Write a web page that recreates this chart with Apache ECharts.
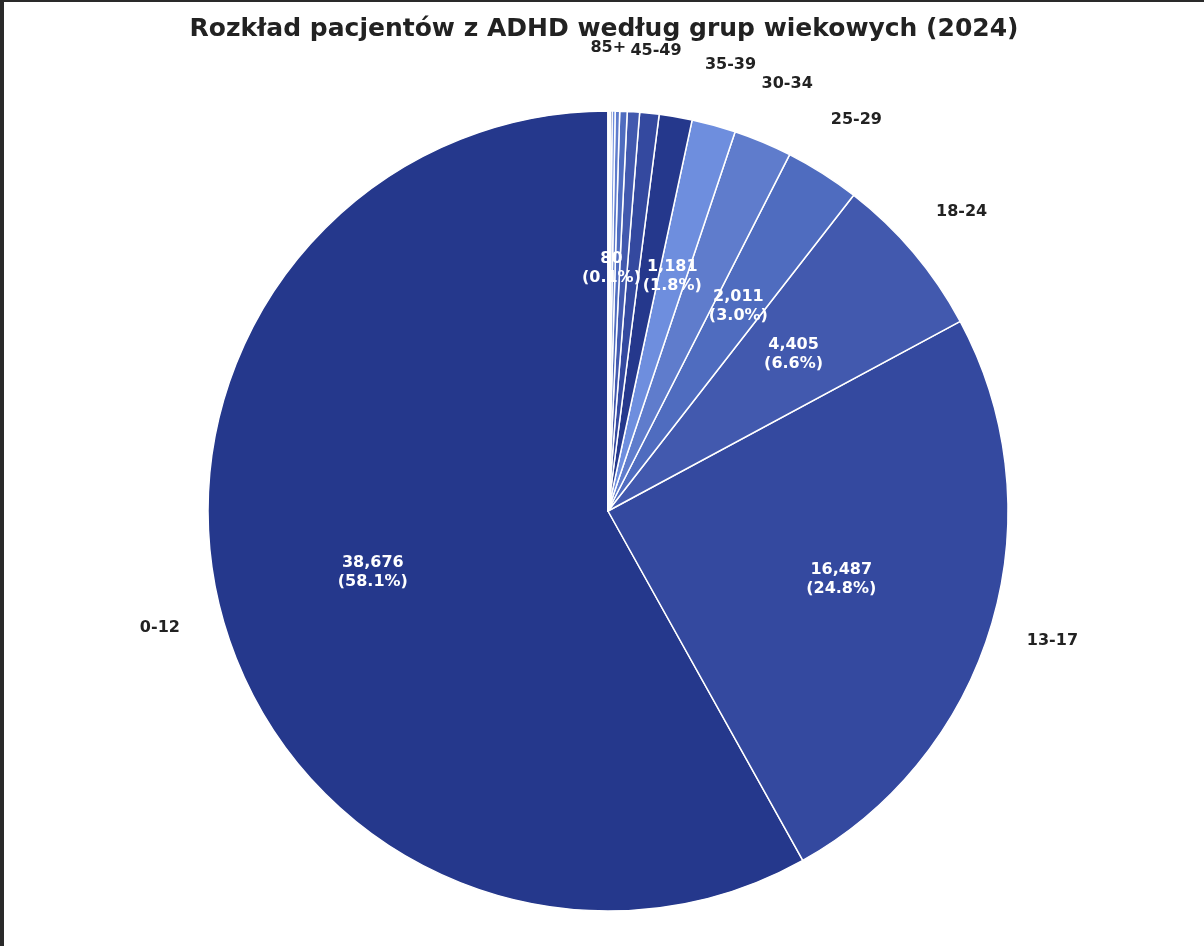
<!DOCTYPE html>
<html><head><meta charset="utf-8">
<script src="https://cdn.jsdelivr.net/npm/echarts@6/dist/echarts.min.js"></script>
<style>html,body{margin:0;padding:0;background:#fff}#c{width:1204px;height:946px;box-sizing:border-box;border-left:4px solid #2a2a2a;border-top:2px solid #2a2a2a}</style>
</head><body><div id="c"></div>
<script>
const categories = ['0-12','13-17','18-24','25-29','30-34','35-39','40-44','45-49','50-54','55-59','60-64','65-69','70-74','75-79','80-84','85+'];
const values = [38676,16487,4405,2011,1567,1181,886,520,330,200,120,80,50,30,20,10];
const palette = ['#25388c','#34499f','#4259ae','#4f6cbf','#5f7ccc','#6e8ede'];
const total = values.reduce((a,b)=>a+b,0);
const data = categories.map((n,i)=>({name:n,value:values[i],itemStyle:{color:palette[i%6]}}));
const ghost = categories.map((n,i)=>({name:n,value:values[i]}));
const chart = echarts.init(document.getElementById('c'));
const base = {type:'pie',center:[604,509],startAngle:90,clockwise:false,silent:true,animation:false};
chart.setOption({
  title:{text:'Rozkład pacjentów z ADHD według grup wiekowych (2024)',left:'center',top:10,textStyle:{fontFamily:'DejaVu Sans',fontSize:25,fontWeight:'bold',color:'#222'}},
  series:[
    Object.assign({},base,{radius:400,data:data,itemStyle:{borderColor:'#fff',borderWidth:1.5},label:{show:false},labelLine:{show:false}}),
    Object.assign({},base,{radius:480,data:ghost,itemStyle:{color:'rgba(0,0,0,0)'},labelLine:{show:false},
      label:{show:true,position:'inside',color:'#fff',fontFamily:'DejaVu Sans',fontWeight:'bold',fontSize:16,lineHeight:19,
        formatter:p=>p.value.toLocaleString('en-US')+'\n('+(p.value/total*100).toFixed(1)+'%)'}}),
    Object.assign({},base,{radius:920,data:ghost,itemStyle:{color:'rgba(0,0,0,0)'},labelLine:{show:false},
      label:{show:true,position:'inside',color:'#222',fontFamily:'DejaVu Sans',fontWeight:'bold',fontSize:16,formatter:'{b}'}})
  ]
});
</script></body></html>
